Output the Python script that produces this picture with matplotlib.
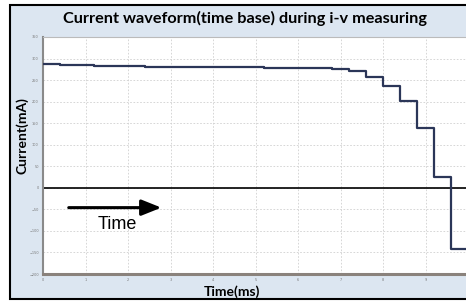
import matplotlib
matplotlib.use("Agg")
import matplotlib.pyplot as plt
from matplotlib.patches import Rectangle

# data (time in ms, current in mA)
time_ms = [0, 0.4, 1.2, 2.4, 5.2, 6.4, 6.8, 7.2, 7.6, 8.0, 8.4, 8.8, 9.2, 9.6, 10.0]
current_ma = [288, 284, 283, 281, 279, 278, 276, 270, 258, 237, 202, 138, 26, -143, -143]
x_ticks = list(range(0, 10))
y_ticks = list(range(-200, 351, 50))

fig = plt.figure(figsize=(4.66, 3.02), dpi=100)
fig.patch.set_facecolor("white")

# light blue panel with black frame, kept behind the axes
panel = Rectangle((10 / 466, 3 / 302), 1.2, 294 / 302, transform=fig.transFigure,
                  facecolor="#dce6f1", edgecolor="black", linewidth=1.5, zorder=-10)
fig.add_artist(panel)

ax = fig.add_axes([43 / 466, 1 - 274 / 302, 423 / 466, 237 / 302])
ax.set_facecolor("white")

ax.plot(time_ms, current_ma, drawstyle="steps-post", color="#2b3658", linewidth=1.6, zorder=3)
ax.axhline(0, color="black", linewidth=1.2, zorder=2)

ax.set_xlim(0, 9.95)
ax.set_ylim(-200, 350)
ax.set_xticks(x_ticks)
ax.set_yticks(y_ticks)
ax.tick_params(axis="both", length=0, labelsize=2.5, labelcolor="#777777", pad=3)
ax.grid(True, color="#d0d0d0", linestyle=(0, (2, 2)), linewidth=0.6)

ax.spines["right"].set_visible(False)
ax.spines["top"].set_color("#bbbbbb")
ax.spines["top"].set_linewidth(0.8)
ax.spines["left"].set_color("#8a8a8a")
ax.spines["left"].set_linewidth(1.5)
ax.spines["bottom"].set_color("#8a827c")
ax.spines["bottom"].set_linewidth(2.2)

# arrow and label inside the plot
ax.annotate("", xy=(2.85, -46), xytext=(0.54, -46),
            arrowprops=dict(arrowstyle="-|>,head_length=1.0,head_width=0.4",
                            color="black", linewidth=2.2, mutation_scale=12))
ax.text(1.74, -86, "Time", fontsize=13, family="Liberation Sans",
        ha="center", va="center", color="black")

fig.text(245 / 466, 1 - 18 / 302, "Current waveform(time base) during i-v measuring",
         ha="center", va="center", fontsize=11.7, fontweight="bold", family="Lato")
fig.text(22 / 466, 1 - 136 / 302, "Current(mA)", rotation=90, ha="center", va="center",
         fontsize=10, fontweight="bold", family="Lato")
fig.text(232 / 466, 1 - 292 / 302, "Time(ms)", ha="center", va="center",
         fontsize=10, fontweight="bold", family="Lato")

fig.savefig("out.png", dpi=100)
